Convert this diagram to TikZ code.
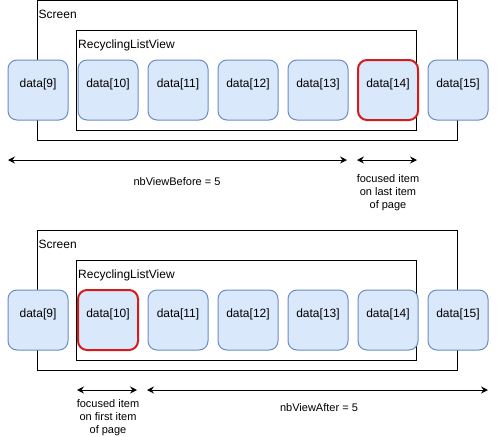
\documentclass[tikz,border=0pt]{standalone}
\usepackage{fontspec}
\setmainfont{Liberation Sans}
\usetikzlibrary{arrows.meta}
\definecolor{boxfill}{HTML}{DAE8FC}
\definecolor{boxline}{HTML}{6C8EBF}
\definecolor{focusred}{HTML}{D41C1C}
\begin{document}
\begin{tikzpicture}[x=1pt,y=-1pt,
  item/.style={draw=boxline, fill=boxfill, rounded corners=9pt, line width=1pt,
    inner sep=0pt, minimum width=60pt, text height=27pt, text depth=33pt,
    font=\fontsize{12pt}{14pt}\selectfont},
  focus/.style={draw=focusred, line width=2pt},
  frame/.style={draw=black, line width=1pt},
  lbl/.style={anchor=base west, inner sep=0pt, font=\fontsize{12pt}{14pt}\selectfont},
  note/.style={inner sep=0pt, align=center, font=\fontsize{11pt}{13pt}\selectfont},
  span/.style={line width=1pt, {Stealth[length=7pt,width=7pt,inset=2.5pt]}-{Stealth[length=7pt,width=7pt,inset=2.5pt]}}]
\useasboundingbox (0,0) rectangle (499,437);
% ---------- top ----------
\draw[frame] (37.5,0.5) rectangle (457.5,140.5);
\node[lbl] (scrA) at (38.5,18) {Screen};
\draw[frame] (76.5,30.5) rectangle (416.5,130.5);
\node[lbl] (rlvA) at (78,48) {RecyclingListView};
\node[item] (a9) at (38,90) {data[9]};
\node[item] (a10) at (108,90) {data[10]};
\node[item] (a11) at (178,90) {data[11]};
\node[item] (a12) at (248,90) {data[12]};
\node[item] (a13) at (318,90) {data[13]};
\node[item,focus] (a14) at (388,90) {data[14]};
\node[item] (a15) at (458,90) {data[15]};
\coordinate (ta1) at (8,160);
\coordinate (ta2) at (347,160);
\coordinate (tb1) at (357,160);
\coordinate (tb2) at (417,160);
\draw[span] (ta1) -- (ta2);
\draw[span] (tb1) -- (tb2);
\node[note, anchor=base] (nbA) at (177,185) {nbViewBefore = 5};
\node[note, anchor=north] (fA) at (388,174) {focused item\\on last item\\of page};
% ---------- bottom ----------
\draw[frame] (37.5,230.5) rectangle (457.5,370.5);
\node[lbl] (scrB) at (38.5,248) {Screen};
\draw[frame] (76.5,260.5) rectangle (416.5,360.5);
\node[lbl] (rlvB) at (78,278) {RecyclingListView};
\node[item] (b9) at (38,320) {data[9]};
\node[item,focus] (b10) at (108,320) {data[10]};
\node[item] (b11) at (178,320) {data[11]};
\node[item] (b12) at (248,320) {data[12]};
\node[item] (b13) at (318,320) {data[13]};
\node[item] (b14) at (388,320) {data[14]};
\node[item] (b15) at (458,320) {data[15]};
\coordinate (ba1) at (77,390);
\coordinate (ba2) at (137,390);
\coordinate (bb1) at (147,390);
\coordinate (bb2) at (488,390);
\draw[span] (ba1) -- (ba2);
\draw[span] (bb1) -- (bb2);
\node[note, anchor=north] (fB) at (108,399) {focused item\\on first item\\of page};
\node[note, anchor=base] (nbB) at (319,411) {nbViewAfter = 5};
\end{tikzpicture}
\end{document}
